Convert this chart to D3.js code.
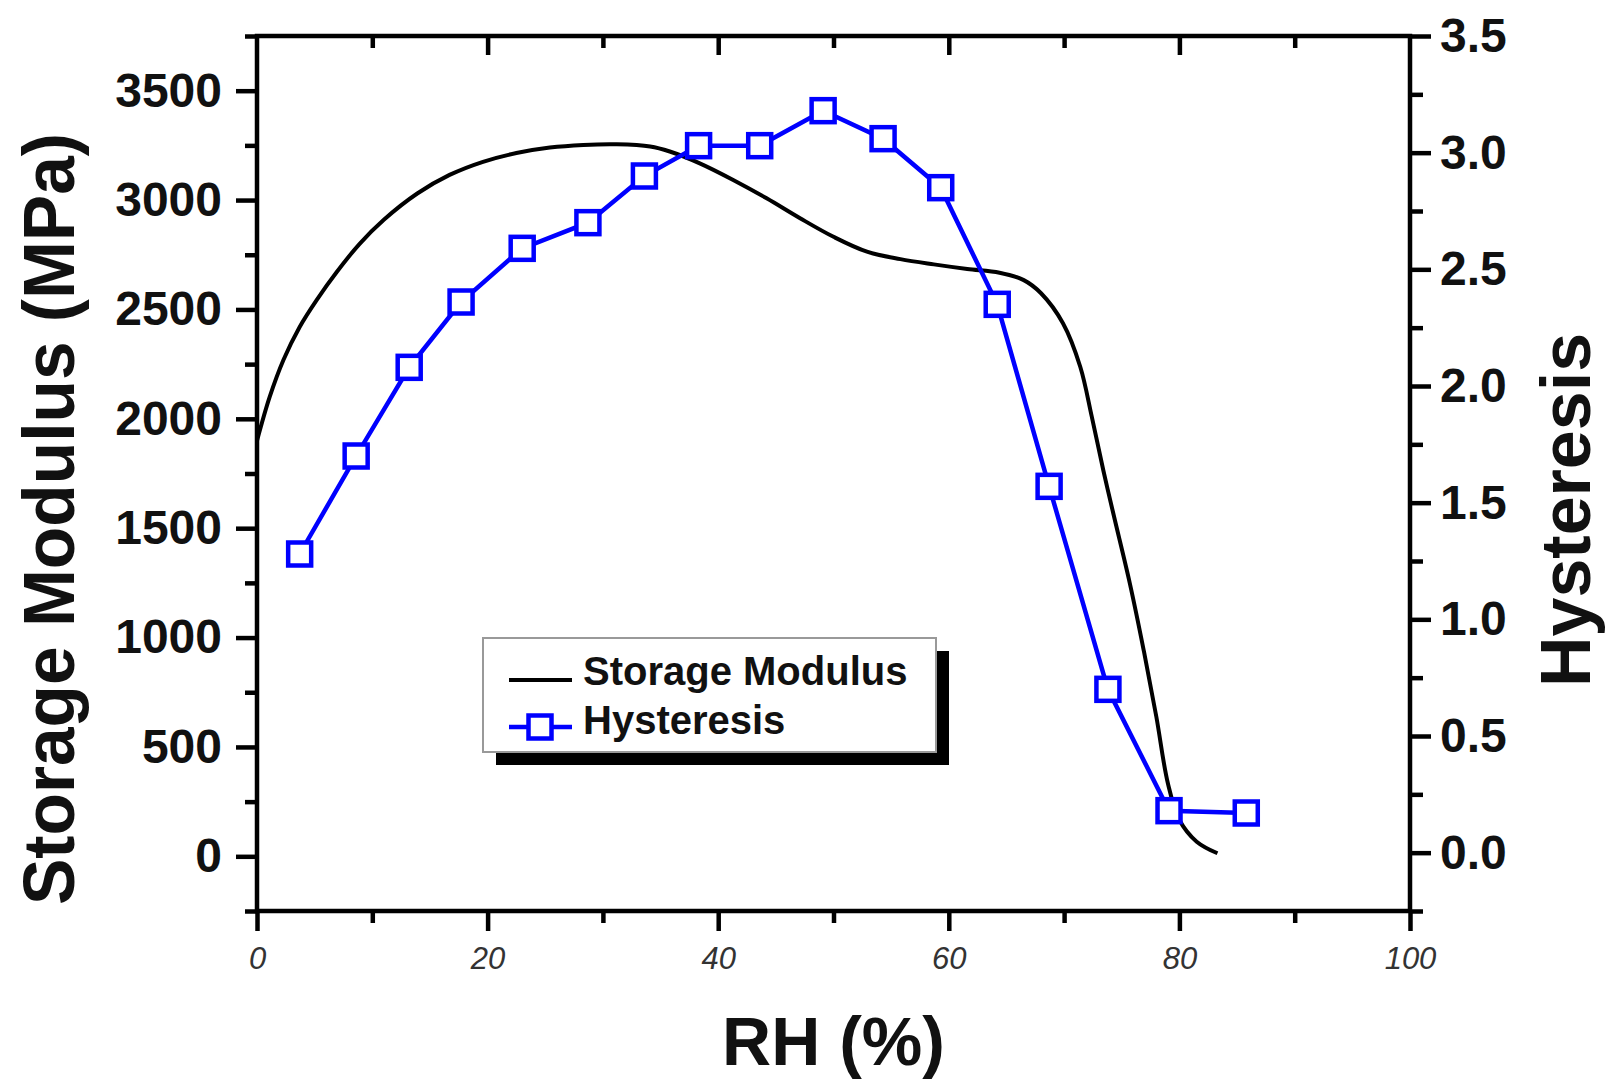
<!DOCTYPE html>
<html>
<head>
<meta charset="utf-8">
<script src="https://cdn.jsdelivr.net/npm/d3@7"></script>
<style>
  html, body { margin: 0; padding: 0; background: #fff; }
  svg { display: block; font-family: 'Liberation Sans', Arial, Helvetica, sans-serif; }
</style>
</head>
<body>
<svg id="chart" width="1619" height="1080"></svg>
<script>
// storage modulus curve (RH %, MPa)
var rhModulus = [0, 1.1, 2.3, 3.7, 5.2, 6.9, 8.9, 11, 13.9, 16.7, 19.6, 22.5, 25.4, 28.3, 31.2, 34.1, 35.8, 38.4, 41.3, 44.2,
  47.1, 50, 52.9, 55.8, 58.7, 61.6, 64.4, 66.5, 68, 69.9, 71.4, 72.4, 73.4, 74.3, 75.7, 76.9, 78, 79, 80, 81.5, 83.3];
var modulus = [1900, 2100, 2270, 2420, 2545, 2670, 2800, 2910, 3030, 3115, 3175, 3215, 3240, 3252, 3255, 3245, 3222, 3168, 3092, 3008,
  2917, 2832, 2764, 2730, 2706, 2685, 2668, 2634, 2574, 2437, 2238, 2010, 1765, 1560, 1248, 943, 638, 334, 166, 67, 14];

// hysteresis points (RH %, -)
var rhHyst = [3.7, 8.6, 13.2, 17.7, 23.0, 28.7, 33.6, 38.3, 43.6, 49.1, 54.3, 59.3, 64.2, 68.7, 73.8, 79.1, 85.8];
var hyst = [1.28, 1.70, 2.08, 2.36, 2.59, 2.70, 2.90, 3.03, 3.03, 3.18, 3.06, 2.85, 2.35, 1.57, 0.70, 0.18, 0.17];

// ticks
var xMajor = [0, 20, 40, 60, 80, 100];
var xMinor = [10, 30, 50, 70, 90];
var yLeftMajor = [0, 500, 1000, 1500, 2000, 2500, 3000, 3500];
var yLeftMinor = [-250, 250, 750, 1250, 1750, 2250, 2750, 3250, 3750];
var yRightMajor = [0, 0.5, 1.0, 1.5, 2.0, 2.5, 3.0, 3.5];
var yRightMinor = [-0.25, 0.25, 0.75, 1.25, 1.75, 2.25, 2.75, 3.25];

var plotL = 257, plotR = 1410, plotT = 36, plotB = 911;

var svg = d3.select('#chart');

var x = d3.scaleLinear().domain([0, 100]).range([plotL, plotR]);
var yL = d3.scaleLinear().domain([-250, 3750]).range([plotB, plotT]);
var yR = d3.scaleLinear().domain([-0.25, 3.5]).range([plotB, plotT]);

var axisW = 4.5;

function styleAxis(g) {
  g.select('.domain').remove();
  g.selectAll('.tick line').attr('stroke', '#000').attr('stroke-width', axisW);
}

// bottom axis
svg.append('g')
  .attr('transform', 'translate(0,' + plotB + ')')
  .call(d3.axisBottom(x).tickValues(xMinor).tickSize(12).tickFormat(''))
  .call(styleAxis);

var gx = svg.append('g')
  .attr('transform', 'translate(0,' + plotB + ')')
  .call(d3.axisBottom(x).tickValues(xMajor).tickSize(20).tickFormat(d3.format('d')))
  .call(styleAxis);

gx.selectAll('text')
  .attr('y', 58)
  .attr('dy', 0)
  .attr('fill', '#333')
  .attr('font-size', 31)
  .attr('font-style', 'italic');

// top axis, ticks inward
svg.append('g')
  .attr('transform', 'translate(0,' + plotT + ')')
  .call(d3.axisBottom(x).tickValues(xMinor).tickSize(12).tickFormat(''))
  .call(styleAxis);

svg.append('g')
  .attr('transform', 'translate(0,' + plotT + ')')
  .call(d3.axisBottom(x).tickValues(xMajor.slice(1, 5)).tickSize(19).tickFormat(''))
  .call(styleAxis);

// left axis
svg.append('g')
  .attr('transform', 'translate(' + plotL + ',0)')
  .call(d3.axisLeft(yL).tickValues(yLeftMinor).tickSize(12).tickFormat(''))
  .call(styleAxis);

var gyl = svg.append('g')
  .attr('transform', 'translate(' + plotL + ',0)')
  .call(d3.axisLeft(yL).tickValues(yLeftMajor).tickSize(21).tickFormat(d3.format('d')))
  .call(styleAxis);

gyl.selectAll('text')
  .attr('x', -35)
  .attr('fill', '#111')
  .attr('font-size', 48)
  .attr('font-weight', 'bold');

// right axis
svg.append('g')
  .attr('transform', 'translate(' + plotR + ',0)')
  .call(d3.axisRight(yR).tickValues(yRightMinor).tickSize(13).tickFormat(''))
  .call(styleAxis);

var gyr = svg.append('g')
  .attr('transform', 'translate(' + plotR + ',0)')
  .call(d3.axisRight(yR).tickValues(yRightMajor).tickSize(21).tickFormat(d3.format('.1f')))
  .call(styleAxis);

gyr.selectAll('text')
  .attr('x', 30)
  .attr('fill', '#111')
  .attr('font-size', 48)
  .attr('font-weight', 'bold');

// frame
svg.append('rect')
  .attr('x', plotL)
  .attr('y', plotT)
  .attr('width', plotR - plotL)
  .attr('height', plotB - plotT)
  .attr('fill', 'none')
  .attr('stroke', '#000')
  .attr('stroke-width', axisW);

// storage modulus curve
var modLine = d3.line()
  .x(function (d, i) { return x(rhModulus[i]); })
  .y(function (d) { return yL(d); })
  .curve(d3.curveCatmullRom);

svg.append('path')
  .datum(modulus)
  .attr('d', modLine)
  .attr('fill', 'none')
  .attr('stroke', '#000')
  .attr('stroke-width', 4);

// hysteresis line + markers
var hystLine = d3.line()
  .x(function (d, i) { return x(rhHyst[i]); })
  .y(function (d) { return yR(d); });

svg.append('path')
  .datum(hyst)
  .attr('d', hystLine)
  .attr('fill', 'none')
  .attr('stroke', '#0000ff')
  .attr('stroke-width', 4.5);

var mk = 23;

svg.selectAll('.marker')
  .data(hyst)
  .enter()
  .append('rect')
  .attr('class', 'marker')
  .attr('x', function (d, i) { return x(rhHyst[i]) - mk / 2; })
  .attr('y', function (d) { return yR(d) - mk / 2; })
  .attr('width', mk)
  .attr('height', mk)
  .attr('fill', '#fff')
  .attr('stroke', '#0000ff')
  .attr('stroke-width', 4.5);

// axis titles
svg.append('text')
  .attr('transform', 'translate(74,519) rotate(-90)')
  .attr('text-anchor', 'middle')
  .attr('font-size', 73)
  .attr('font-weight', 'bold')
  .attr('fill', '#111')
  .attr('textLength', 772)
  .attr('lengthAdjust', 'spacingAndGlyphs')
  .text('Storage Modulus (MPa)');

svg.append('text')
  .attr('transform', 'translate(1590,510) rotate(-90)')
  .attr('text-anchor', 'middle')
  .attr('font-size', 70)
  .attr('font-weight', 'bold')
  .attr('fill', '#111')
  .text('Hysteresis');

svg.append('text')
  .attr('x', (plotL + plotR) / 2)
  .attr('y', 1065)
  .attr('text-anchor', 'middle')
  .attr('font-size', 68)
  .attr('font-weight', 'bold')
  .attr('fill', '#111')
  .text('RH (%)');

// legend
var legend = svg.append('g').attr('transform', 'translate(483,638)');

legend.append('rect')
  .attr('x', 13).attr('y', 13)
  .attr('width', 453).attr('height', 114)
  .attr('fill', '#000');

legend.append('rect')
  .attr('x', 0).attr('y', 0)
  .attr('width', 453).attr('height', 114)
  .attr('fill', '#fff')
  .attr('stroke', '#999')
  .attr('stroke-width', 2);

legend.append('line')
  .attr('x1', 26).attr('x2', 89)
  .attr('y1', 42).attr('y2', 42)
  .attr('stroke', '#000')
  .attr('stroke-width', 4);

legend.append('line')
  .attr('x1', 26).attr('x2', 89)
  .attr('y1', 89).attr('y2', 89)
  .attr('stroke', '#0000ff')
  .attr('stroke-width', 4.5);

legend.append('rect')
  .attr('x', 57 - mk / 2).attr('y', 89 - mk / 2)
  .attr('width', mk).attr('height', mk)
  .attr('fill', '#fff')
  .attr('stroke', '#0000ff')
  .attr('stroke-width', 4.5);

legend.selectAll('.ltext')
  .data(['Storage Modulus', 'Hysteresis'])
  .enter()
  .append('text')
  .attr('class', 'ltext')
  .attr('x', 100)
  .attr('y', function (d, i) { return 47 + i * 49; })
  .attr('font-size', 40)
  .attr('font-weight', 'bold')
  .attr('fill', '#111')
  .text(function (d) { return d; });
</script>
</body>
</html>
